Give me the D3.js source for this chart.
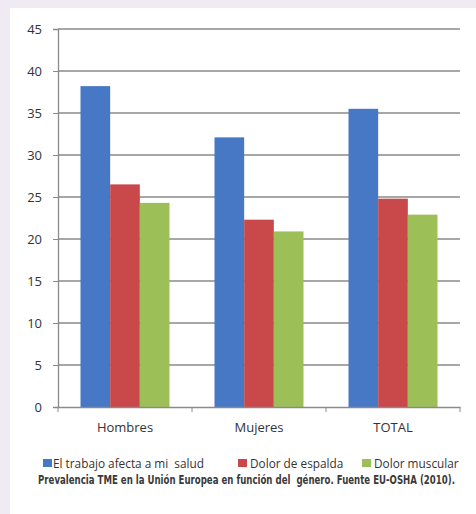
<!DOCTYPE html>
<html>
<head>
<meta charset="utf-8">
<script src="https://cdn.jsdelivr.net/npm/d3@7/dist/d3.min.js"></script>
<style>
  html, body { margin: 0; padding: 0; background: #f0eaf3; }
  svg { display: block; }
</style>
</head>
<body>
<svg id="chart" width="476" height="514"></svg>
<script>
// Prevalence of musculoskeletal disorders by gender (%)
const categories = ["Hombres", "Mujeres", "TOTAL"];
const seriesNames = ["El trabajo afecta a mi  salud", "Dolor de espalda", "Dolor muscular"];
const saludValues = [38.2, 32.1, 35.5];
const espaldaValues = [26.5, 22.3, 24.8];
const muscularValues = [24.3, 20.9, 22.9];
const yTicks = [0, 5, 10, 15, 20, 25, 30, 35, 40, 45];
const seriesColors = ["#4678c6", "#c9484a", "#9cbf57"];
const caption = "Prevalencia TME en la Unión Europea en función del  género. Fuente EU-OSHA (2010).";

const seriesValues = [saludValues, espaldaValues, muscularValues];

const svg = d3.select("#chart");

// white panel
svg.append("rect").attr("x", 10).attr("y", 8).attr("width", 466).attr("height", 506).attr("fill", "#ffffff");

const plot = { left: 58, right: 460, top: 29, bottom: 407 };

const y = d3.scaleLinear().domain([0, 45]).range([plot.bottom, plot.top]);
const x0 = d3.scaleBand().domain(categories).range([plot.left, plot.right]).paddingInner(0).paddingOuter(0);
const x1 = d3.scaleBand().domain(d3.range(seriesNames.length)).range([22.5, x0.bandwidth() - 22.5]).padding(0);

// gridlines
svg.append("g")
  .selectAll("line")
  .data(yTicks.filter(d => d > 0))
  .join("line")
  .attr("x1", plot.left).attr("x2", plot.right)
  .attr("y1", d => y(d)).attr("y2", d => y(d))
  .attr("stroke", "#8a8a8a").attr("stroke-width", 1.3);

// bars
const groups = svg.append("g")
  .selectAll("g")
  .data(categories)
  .join("g")
  .attr("transform", c => `translate(${x0(c)},0)`);

groups.selectAll("rect")
  .data((c, i) => seriesValues.map((vals, s) => ({ s, v: vals[i] })))
  .join("rect")
  .attr("x", d => x1(d.s))
  .attr("width", x1.bandwidth())
  .attr("y", d => y(d.v))
  .attr("height", d => y(0) - y(d.v))
  .attr("fill", d => seriesColors[d.s]);

// y axis
const yAxis = svg.append("g")
  .attr("transform", `translate(${plot.left},0)`)
  .call(d3.axisLeft(y).tickValues(yTicks).tickSize(5).tickPadding(11));
yAxis.select(".domain").attr("stroke", "#8a8a8a").attr("stroke-width", 1.3);
yAxis.selectAll(".tick line").attr("stroke", "#8a8a8a");
yAxis.selectAll("text")
  .attr("font-family", "'Open Sans', sans-serif")
  .attr("font-size", 13).attr("fill", "#333");

// x axis
const xAxis = svg.append("g")
  .attr("transform", `translate(0,${plot.bottom})`)
  .call(d3.axisBottom(x0).tickSize(0).tickPadding(16));
xAxis.select(".domain").attr("stroke", "#8a8a8a").attr("stroke-width", 1.3);
xAxis.selectAll("text")
  .attr("font-family", "'Open Sans', sans-serif")
  .attr("font-size", 13).attr("fill", "#333");

// category separators
const sepX = categories.map(c => x0(c)).concat([plot.right]);
svg.append("g")
  .selectAll("line")
  .data(sepX)
  .join("line")
  .attr("x1", d => d).attr("x2", d => d)
  .attr("y1", plot.bottom).attr("y2", plot.bottom + 5)
  .attr("stroke", "#8a8a8a");

// legend
const legendX = [43, 238, 362];
const legend = svg.append("g")
  .selectAll("g")
  .data(seriesNames)
  .join("g")
  .attr("transform", (d, i) => `translate(${legendX[i]},459)`);
legend.append("rect").attr("width", 9).attr("height", 8).attr("fill", (d, i) => seriesColors[i]);
legend.append("text")
  .attr("x", (d, i) => i === 0 ? 10 : 12).attr("y", 8.5)
  .attr("font-family", "'Open Sans', sans-serif")
  .attr("font-size", 11.8).attr("fill", "#333")
  .style("white-space", "pre")
  .text(d => d);

// caption: condensed bold, stretched vertically
svg.append("g")
  .attr("transform", "translate(38,484) scale(1,1.3)")
  .append("text")
  .attr("x", 0).attr("y", 0)
  .attr("font-family", "'DejaVu Sans Condensed', 'DejaVu Sans', sans-serif")
  .attr("font-weight", "bold")
  .attr("font-size", 9.2).attr("fill", "#3a3a3a")
  .attr("textLength", 417).attr("lengthAdjust", "spacingAndGlyphs")
  .style("white-space", "pre")
  .text(caption);
</script>
</body>
</html>
